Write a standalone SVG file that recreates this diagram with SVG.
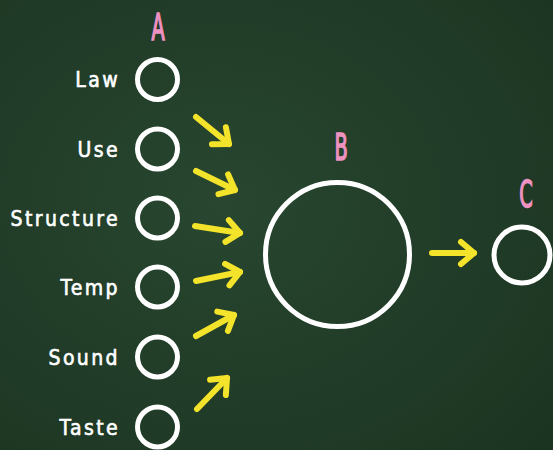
<svg xmlns="http://www.w3.org/2000/svg" width="553" height="450" viewBox="0 0 553 450">
  <defs>
    <radialGradient id="bg" cx="0.4" cy="0.45" r="0.8">
      <stop offset="0" stop-color="#284630"/>
      <stop offset="1" stop-color="#1b3421"/>
    </radialGradient>
    <marker id="ah" markerUnits="userSpaceOnUse" markerWidth="40" markerHeight="40" viewBox="-20 -20 40 40" refX="0" refY="0" orient="auto">
      <path d="M -13 -11 L 0 0 L -13 11" fill="none" stroke="#f3e32a" stroke-width="6" stroke-linecap="round" stroke-linejoin="round"/>
    </marker>
    <style>
      .ring { fill: none; stroke: #ffffff; stroke-width: 5; }
      .lbl { font-family: "DejaVu Sans Condensed", "DejaVu Sans", sans-serif; font-size: 21px; fill: #ffffff; stroke: #ffffff; stroke-width: 0.6px; text-anchor: end; letter-spacing: 2.4px; }
      .big { font-family: "DejaVu Sans Condensed", "DejaVu Sans", sans-serif; font-size: 37px; fill: #ee92c2; stroke: #ee92c2; stroke-width: 1.5px; text-anchor: middle; }
      .arr { fill: none; stroke: #f3e32a; stroke-width: 6; stroke-linecap: round; marker-end: url(#ah); }
    </style>
  </defs>
  <rect width="553" height="450" fill="url(#bg)"/>

  <text class="big" transform="translate(158,40) scale(0.58,1)">A</text>
  <text class="big" transform="translate(341,160) scale(0.58,1)">B</text>
  <text class="big" transform="translate(526,207) scale(0.58,1)">C</text>

  <g id="law"><circle class="ring" cx="157.5" cy="79.5" r="20"/><text class="lbl" x="120" y="87">Law</text></g>
  <g id="use"><circle class="ring" cx="157.5" cy="149" r="20"/><text class="lbl" x="120" y="157">Use</text></g>
  <g id="structure"><circle class="ring" cx="157.5" cy="218" r="20"/><text class="lbl" x="120" y="226">Structure</text></g>
  <g id="temp"><circle class="ring" cx="157.5" cy="287" r="20"/><text class="lbl" x="120" y="295">Temp</text></g>
  <g id="sound"><circle class="ring" cx="157.5" cy="357" r="20"/><text class="lbl" x="120" y="365">Sound</text></g>
  <g id="taste"><circle class="ring" cx="157.5" cy="427" r="20"/><text class="lbl" x="120" y="435">Taste</text></g>
  <g id="B"><circle class="ring" cx="337.5" cy="254.5" r="72"/></g>
  <g id="C"><circle class="ring" cx="522" cy="255" r="28"/></g>

  <g id="connectors">
    <path class="arr" d="M 196 117 L 229 144"/>
    <path class="arr" d="M 196 171 L 235 190"/>
    <path class="arr" d="M 195 226 L 240 233"/>
    <path class="arr" d="M 196 281 L 240 272"/>
    <path class="arr" d="M 196 336 L 234 315"/>
    <path class="arr" d="M 197 409 L 227 378"/>
    <path class="arr" d="M 432 253 L 474 253"/>
  </g>
</svg>
